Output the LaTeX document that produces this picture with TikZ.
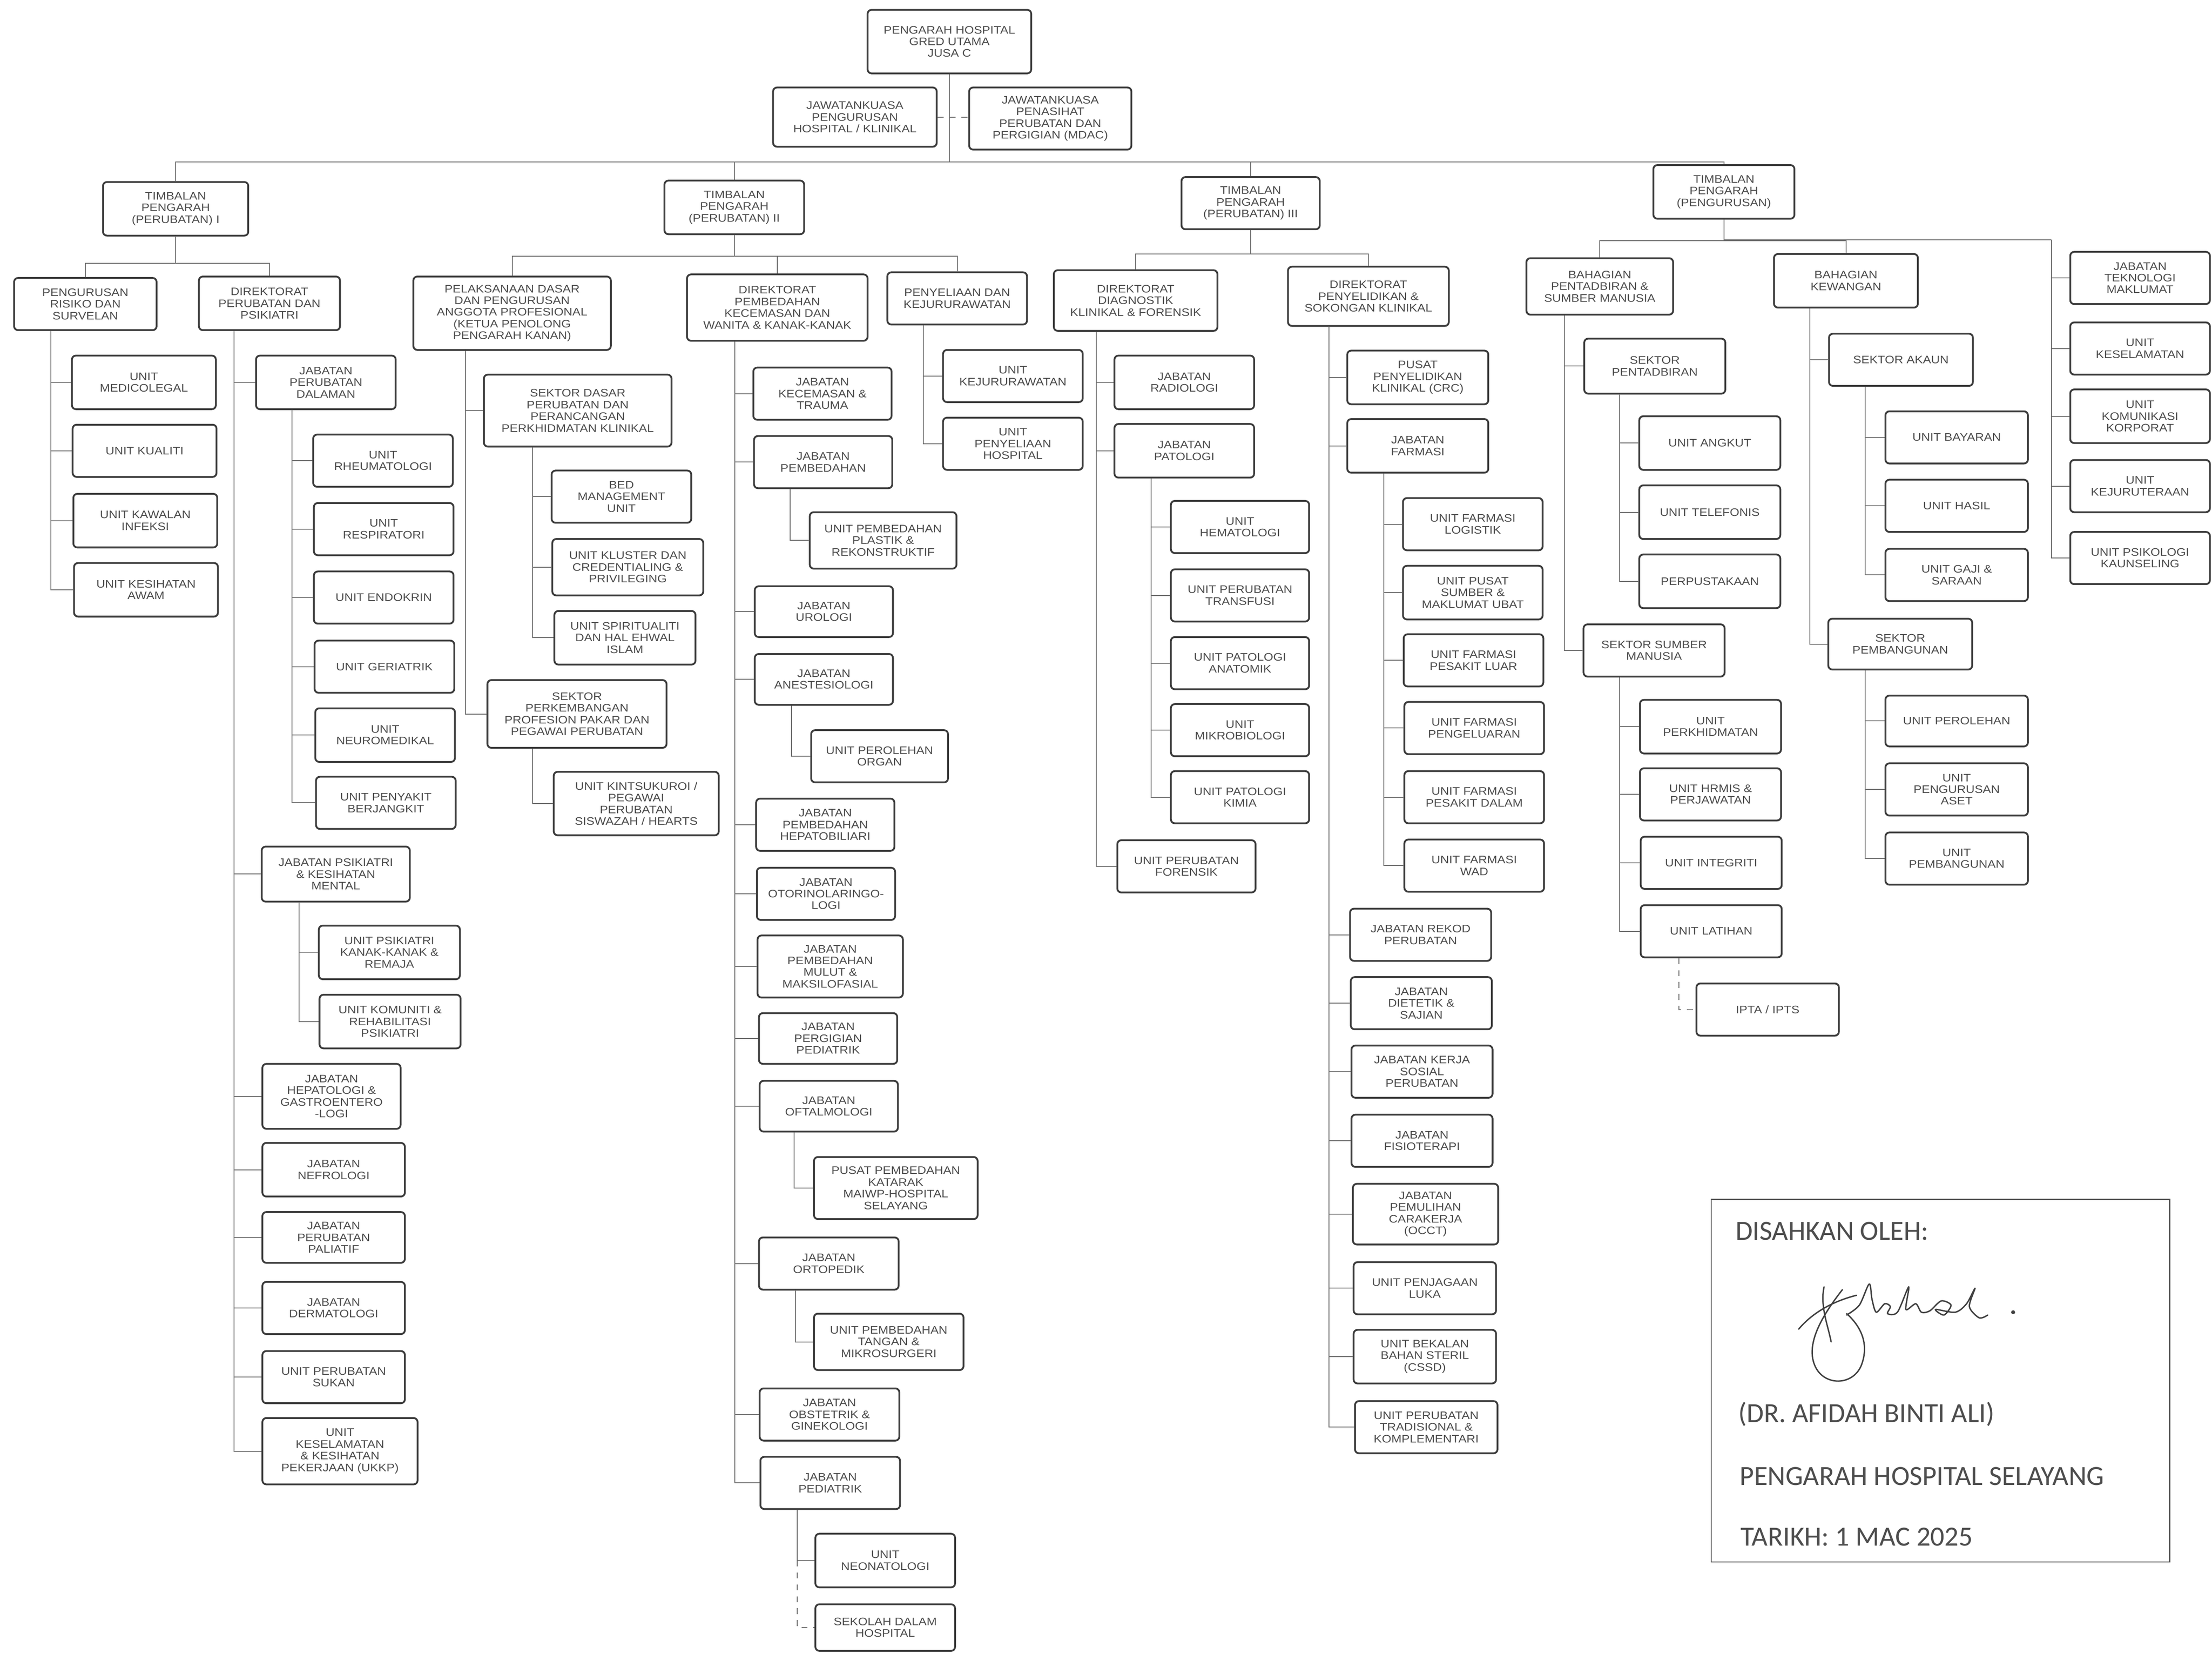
\documentclass[tikz,border=0pt]{standalone}
\usepackage{fontspec}
\usepackage{tikz}
\newfontfamily\boxfam[FakeStretch=1.12]{Liberation Sans}
\newfontfamily\sigfam{Carlito}
\definecolor{boxline}{HTML}{3C3C3C}
\definecolor{linkgray}{HTML}{6E6E6E}
\definecolor{txtgray}{HTML}{4D4D4D}
\tikzset{
  orgbox/.style={draw=boxline, line width=0.9pt, rounded corners=0.7mm, fill=white, align=center,
    text=txtgray, font=\boxfam\fontsize{5.5}{5.9}\selectfont, inner sep=0.5pt},
  wh/.style 2 args={minimum width=#1*0.25mm, minimum height=#2*0.25mm},
  link/.style={draw=linkgray, line width=0.45pt},
  sigtext/.style={anchor=base west, inner sep=0pt, text=txtgray, font=\sigfam\fontsize{14}{16}\selectfont},
  sigline/.style={draw=black!75, line width=0.7pt, line cap=round, line join=round},
}
\begin{document}
\begin{tikzpicture}[x=0.25mm,y=-0.25mm]
\path[fill=white] (0,0) rectangle (1568,1172);
\useasboundingbox (0,0) rectangle (1568,1172);

%Pengarah dan jawatankuasa
\node[orgbox, wh={116}{45}] (ph) at (673,29.5) {PENGARAH HOSPITAL\\GRED UTAMA\\JUSA C};
\node[orgbox, wh={116}{42}] (jkph) at (606,83) {JAWATANKUASA\\PENGURUSAN\\HOSPITAL / KLINIKAL};
\node[orgbox, wh={115}{44}] (mdac) at (744.5,84) {JAWATANKUASA\\PENASIHAT\\PERUBATAN DAN\\PERGIGIAN (MDAC)};

%Timbalan pengarah
\node[orgbox, wh={103}{38}] (tp1) at (124.5,148) {TIMBALAN\\PENGARAH\\(PERUBATAN) I};
\node[orgbox, wh={99}{38}] (tp2) at (520.5,147) {TIMBALAN\\PENGARAH\\(PERUBATAN) II};
\node[orgbox, wh={98}{37}] (tp3) at (886.5,144) {TIMBALAN\\PENGARAH\\(PERUBATAN) III};
\node[orgbox, wh={100}{38}] (tpp) at (1222,136) {TIMBALAN\\PENGARAH\\(PENGURUSAN)};

%Perubatan I
\node[orgbox, wh={101}{37}] (prs) at (60.5,215.5) {PENGURUSAN\\RISIKO DAN\\SURVELAN};
\node[orgbox, wh={100}{38}] (dpp) at (191,215) {DIREKTORAT\\PERUBATAN DAN\\PSIKIATRI};
\node[orgbox, wh={102}{38}] (umed) at (102,271) {UNIT\\MEDICOLEGAL};
\node[orgbox, wh={102}{37}] (ukua) at (102.5,319.5) {UNIT KUALITI};
\node[orgbox, wh={102}{38}] (ukaw) at (103,369) {UNIT KAWALAN\\INFEKSI};
\node[orgbox, wh={102}{38}] (ukes) at (103.5,418) {UNIT KESIHATAN\\AWAM};
\node[orgbox, wh={99}{38}] (jpd) at (231,271) {JABATAN\\PERUBATAN\\DALAMAN};
\node[orgbox, wh={99}{37}] (urhe) at (271.5,326.5) {UNIT\\RHEUMATOLOGI};
\node[orgbox, wh={99}{37}] (ures) at (272,375) {UNIT\\RESPIRATORI};
\node[orgbox, wh={99}{37}] (uend) at (272,423.5) {UNIT ENDOKRIN};
\node[orgbox, wh={99}{37}] (uger) at (272.5,472.5) {UNIT GERIATRIK};
\node[orgbox, wh={99}{38}] (uneu) at (273,521) {UNIT\\NEUROMEDIKAL};
\node[orgbox, wh={99}{37}] (upb) at (273.5,569) {UNIT PENYAKIT\\BERJANGKIT};
\node[orgbox, wh={105}{39}] (jpkm) at (238,619.5) {JABATAN PSIKIATRI\\\& KESIHATAN\\MENTAL};
\node[orgbox, wh={100}{38}] (upkr) at (276,675) {UNIT PSIKIATRI\\KANAK-KANAK \&\\REMAJA};
\node[orgbox, wh={100}{38}] (ukrp) at (276.5,724) {UNIT KOMUNITI \&\\REHABILITASI\\PSIKIATRI};
\node[orgbox, wh={98}{46}] (jhg) at (235,777) {JABATAN\\HEPATOLOGI \&\\GASTROENTERO\\-LOGI};
\node[orgbox, wh={101}{38}] (jnef) at (236.5,829) {JABATAN\\NEFROLOGI};
\node[orgbox, wh={101}{36}] (jpal) at (236.5,877) {JABATAN\\PERUBATAN\\PALIATIF};
\node[orgbox, wh={101}{37}] (jder) at (236.5,927) {JABATAN\\DERMATOLOGI};
\node[orgbox, wh={101}{37}] (ups) at (236.5,976) {UNIT PERUBATAN\\SUKAN};
\node[orgbox, wh={110}{47}] (ukkp) at (241,1028.5) {UNIT\\KESELAMATAN\\\& KESIHATAN\\PEKERJAAN (UKKP)};

%Perubatan II
\node[orgbox, wh={140}{52}] (pdpap) at (363,222) {PELAKSANAAN DASAR\\DAN PENGURUSAN\\ANGGOTA PROFESIONAL\\(KETUA PENOLONG\\PENGARAH KANAN)};
\node[orgbox, wh={128}{47}] (dpk) at (551,218) {DIREKTORAT\\PEMBEDAHAN\\KECEMASAN DAN\\WANITA \& KANAK-KANAK};
\node[orgbox, wh={99}{37}] (pkj) at (678.5,211.5) {PENYELIAAN DAN\\KEJURURAWATAN};
\node[orgbox, wh={133}{51}] (sdp) at (409.5,291) {SEKTOR DASAR\\PERUBATAN DAN\\PERANCANGAN\\PERKHIDMATAN KLINIKAL};
\node[orgbox, wh={99}{37}] (bmu) at (440.5,352) {BED\\MANAGEMENT\\UNIT};
\node[orgbox, wh={107}{40}] (ukcp) at (445,402) {UNIT KLUSTER DAN\\CREDENTIALING \&\\PRIVILEGING};
\node[orgbox, wh={100}{38}] (usei) at (443,452) {UNIT SPIRITUALITI\\DAN HAL EHWAL\\ISLAM};
\node[orgbox, wh={127}{48}] (spp) at (409,506) {SEKTOR\\PERKEMBANGAN\\PROFESION PAKAR DAN\\PEGAWAI PERUBATAN};
\node[orgbox, wh={117}{45}] (ukin) at (451,569.5) {UNIT KINTSUKUROI /\\PEGAWAI\\PERUBATAN\\SISWAZAH / HEARTS};
\node[orgbox, wh={98}{37}] (jkt) at (583,279) {JABATAN\\KECEMASAN \&\\TRAUMA};
\node[orgbox, wh={98}{37}] (jpem) at (583.5,327.5) {JABATAN\\PEMBEDAHAN};
\node[orgbox, wh={104}{40}] (upr) at (626,383) {UNIT PEMBEDAHAN\\PLASTIK \&\\REKONSTRUKTIF};
\node[orgbox, wh={98}{36}] (juro) at (584,433.5) {JABATAN\\UROLOGI};
\node[orgbox, wh={98}{36}] (jane) at (584,481.5) {JABATAN\\ANESTESIOLOGI};
\node[orgbox, wh={97}{37}] (upo) at (623.5,536) {UNIT PEROLEHAN\\ORGAN};
\node[orgbox, wh={98}{37}] (jphb) at (585,584.5) {JABATAN\\PEMBEDAHAN\\HEPATOBILIARI};
\node[orgbox, wh={98}{37}] (jorl) at (585.5,633.5) {JABATAN\\OTORINOLARINGO-\\LOGI};
\node[orgbox, wh={103}{44}] (jmm) at (588.5,685) {JABATAN\\PEMBEDAHAN\\MULUT \&\\MAKSILOFASIAL};
\node[orgbox, wh={98}{36}] (jpp) at (587,736) {JABATAN\\PERGIGIAN\\PEDIATRIK};
\node[orgbox, wh={98}{36}] (joft) at (587.5,784) {JABATAN\\OFTALMOLOGI};
\node[orgbox, wh={116}{44}] (upk) at (635,842) {PUSAT PEMBEDAHAN\\KATARAK\\MAIWP-HOSPITAL\\SELAYANG};
\node[orgbox, wh={99}{37}] (jort) at (587.5,895.5) {JABATAN\\ORTOPEDIK};
\node[orgbox, wh={106}{40}] (uptm) at (630,951) {UNIT PEMBEDAHAN\\TANGAN \&\\MIKROSURGERI};
\node[orgbox, wh={99}{37}] (jog) at (588,1002.5) {JABATAN\\OBSTETRIK \&\\GINEKOLOGI};
\node[orgbox, wh={99}{37}] (jped) at (588.5,1051) {JABATAN\\PEDIATRIK};
\node[orgbox, wh={99}{38}] (uneo) at (627.5,1106) {UNIT\\NEONATOLOGI};
\node[orgbox, wh={99}{33}] (sdh) at (627.5,1153.5) {SEKOLAH DALAM\\HOSPITAL};
\node[orgbox, wh={99}{37}] (ukej) at (718,266.5) {UNIT\\KEJURURAWATAN};
\node[orgbox, wh={99}{37}] (uph) at (718,314.5) {UNIT\\PENYELIAAN\\HOSPITAL};

%Perubatan III
\node[orgbox, wh={116}{43}] (ddkf) at (805,213) {DIREKTORAT\\DIAGNOSTIK\\KLINIKAL \& FORENSIK};
\node[orgbox, wh={114}{42}] (dpsk) at (970,210) {DIREKTORAT\\PENYELIDIKAN \&\\SOKONGAN KLINIKAL};
\node[orgbox, wh={99}{38}] (jrad) at (839.5,271) {JABATAN\\RADIOLOGI};
\node[orgbox, wh={99}{38}] (jpat) at (839.5,319.5) {JABATAN\\PATOLOGI};
\node[orgbox, wh={98}{37}] (uhem) at (879,373.5) {UNIT\\HEMATOLOGI};
\node[orgbox, wh={98}{37}] (uptr) at (879,422) {UNIT PERUBATAN\\TRANSFUSI};
\node[orgbox, wh={98}{37}] (upan) at (879,470) {UNIT PATOLOGI\\ANATOMIK};
\node[orgbox, wh={98}{37}] (umik) at (879,517.5) {UNIT\\MIKROBIOLOGI};
\node[orgbox, wh={98}{37}] (upki) at (879,565) {UNIT PATOLOGI\\KIMIA};
\node[orgbox, wh={98}{37}] (upf) at (841,614) {UNIT PERUBATAN\\FORENSIK};
\node[orgbox, wh={100}{38}] (crc) at (1005,267.5) {PUSAT\\PENYELIDIKAN\\KLINIKAL (CRC)};
\node[orgbox, wh={100}{38}] (jfar) at (1005,316) {JABATAN\\FARMASI};
\node[orgbox, wh={99}{37}] (uflo) at (1044,371.5) {UNIT FARMASI\\LOGISTIK};
\node[orgbox, wh={99}{38}] (upsm) at (1044,420) {UNIT PUSAT\\SUMBER \&\\MAKLUMAT UBAT};
\node[orgbox, wh={99}{37}] (ufpl) at (1044.5,468) {UNIT FARMASI\\PESAKIT LUAR};
\node[orgbox, wh={99}{37}] (ufpg) at (1045,516) {UNIT FARMASI\\PENGELUARAN};
\node[orgbox, wh={99}{37}] (ufpd) at (1045,565) {UNIT FARMASI\\PESAKIT DALAM};
\node[orgbox, wh={99}{37}] (ufwd) at (1045,613.5) {UNIT FARMASI\\WAD};
\node[orgbox, wh={100}{37}] (jrek) at (1007,662.5) {JABATAN REKOD\\PERUBATAN};
\node[orgbox, wh={100}{37}] (jdie) at (1007.5,711) {JABATAN\\DIETETIK \&\\SAJIAN};
\node[orgbox, wh={100}{37}] (jkso) at (1008,759.5) {JABATAN KERJA\\SOSIAL\\PERUBATAN};
\node[orgbox, wh={100}{37}] (jfis) at (1008,808.5) {JABATAN\\FISIOTERAPI};
\node[orgbox, wh={103}{43}] (jocc) at (1010.5,860.5) {JABATAN\\PEMULIHAN\\CARAKERJA\\(OCCT)};
\node[orgbox, wh={101}{37}] (upl) at (1010,913) {UNIT PENJAGAAN\\LUKA};
\node[orgbox, wh={101}{38}] (ucssd) at (1010,961.5) {UNIT BEKALAN\\BAHAN STERIL\\(CSSD)};
\node[orgbox, wh={101}{37}] (uptk) at (1011,1011.5) {UNIT PERUBATAN\\TRADISIONAL \&\\KOMPLEMENTARI};

%Pengurusan
\node[orgbox, wh={104}{40}] (bpsm) at (1134,203) {BAHAGIAN\\PENTADBIRAN \&\\SUMBER MANUSIA};
\node[orgbox, wh={102}{38}] (bk) at (1308.5,199) {BAHAGIAN\\KEWANGAN};
\node[orgbox, wh={100}{39}] (sp) at (1173,259.5) {SEKTOR\\PENTADBIRAN};
\node[orgbox, wh={100}{38}] (uang) at (1212,314) {UNIT ANGKUT};
\node[orgbox, wh={100}{38}] (utel) at (1212,363) {UNIT TELEFONIS};
\node[orgbox, wh={100}{38}] (ppk) at (1212,412) {PERPUSTAKAAN};
\node[orgbox, wh={100}{37}] (ssm) at (1172.5,461) {SEKTOR SUMBER\\MANUSIA};
\node[orgbox, wh={100}{38}] (uprk) at (1212.5,515) {UNIT\\PERKHIDMATAN};
\node[orgbox, wh={100}{37}] (uhrm) at (1212.5,563) {UNIT HRMIS \&\\PERJAWATAN};
\node[orgbox, wh={100}{37}] (uint) at (1213,611.5) {UNIT INTEGRITI};
\node[orgbox, wh={100}{37}] (ulat) at (1213,660) {UNIT LATIHAN};
\node[orgbox, wh={101}{37}] (ipta) at (1253,715.5) {IPTA / IPTS};
\node[orgbox, wh={102}{37}] (sak) at (1347.5,255) {SEKTOR AKAUN};
\node[orgbox, wh={101}{37}] (ubay) at (1387,310) {UNIT BAYARAN};
\node[orgbox, wh={101}{37}] (uhas) at (1387,358.5) {UNIT HASIL};
\node[orgbox, wh={101}{37}] (ugaj) at (1387,407.5) {UNIT GAJI \&\\SARAAN};
\node[orgbox, wh={102}{36}] (spb) at (1347,456.5) {SEKTOR\\PEMBANGUNAN};
\node[orgbox, wh={101}{36}] (upro) at (1387,511) {UNIT PEROLEHAN};
\node[orgbox, wh={101}{37}] (upas) at (1387,559.5) {UNIT\\PENGURUSAN\\ASET};
\node[orgbox, wh={101}{37}] (upbg) at (1387,608.5) {UNIT\\PEMBANGUNAN};
\node[orgbox, wh={99}{37}] (jtm) at (1517,197) {JABATAN\\TEKNOLOGI\\MAKLUMAT};
\node[orgbox, wh={99}{37}] (ukel) at (1517,247) {UNIT\\KESELAMATAN};
\node[orgbox, wh={99}{38}] (ukk) at (1517,295) {UNIT\\KOMUNIKASI\\KORPORAT};
\node[orgbox, wh={99}{37}] (ukju) at (1517,344.5) {UNIT\\KEJURUTERAAN};
\node[orgbox, wh={99}{37}] (upsk) at (1517,395.5) {UNIT PSIKOLOGI\\KAUNSELING};

%vertical rails
\coordinate (vprs) at (36,0);   \coordinate (vdpp) at (166,0);  \coordinate (vjpd) at (207,0);
\coordinate (vjpkm) at (212,0); \coordinate (vpdp) at (330,0);  \coordinate (vsdp) at (377.5,0);
\coordinate (vdpk) at (521,0);  \coordinate (vjpem) at (560,0); \coordinate (vjane) at (561,0);
\coordinate (vjoft) at (563,0); \coordinate (vjort) at (564,0); \coordinate (vjped) at (565,0);
\coordinate (vpkj) at (654.5,0); \coordinate (vddk) at (777,0); \coordinate (vjpat) at (816,0);
\coordinate (vdps) at (942,0);  \coordinate (vjfar) at (981,0); \coordinate (vbps) at (1109,0);
\coordinate (vsp) at (1148,0);  \coordinate (vbk) at (1283,0);  \coordinate (vsak) at (1322,0);
\coordinate (vlat) at (1190,0); \coordinate (bp) at (1454,170);

%connectors
\draw[link, dashed] (jkph.east) -- (jkph.east -| mdac.west);
\foreach \c in {tp1,tp2,tp3,tpp} \draw[link] (ph.south) -- ++(0,62) -| (\c.north);
\foreach \c in {prs,dpp} \draw[link] (tp1.south) -- ++(0,19) -| (\c.north);
\foreach \c in {pdpap,dpk,pkj} \draw[link] (tp2.south) -- ++(0,15) -| (\c.north);
\foreach \c in {ddkf,dpsk} \draw[link] (tp3.south) -- ++(0,17) -| (\c.north);
\foreach \c in {bpsm,bk} \draw[link] (tpp.south) -- ++(0,15) -| (\c.north);
\draw[link] (tpp.south) |- (bp);
\foreach \c in {jtm,ukel,ukk,ukju,upsk} \draw[link] (bp) |- (\c.west);

\foreach \c in {umed,ukua,ukaw,ukes} \draw[link] (prs.south -| vprs) |- (\c.west);
\foreach \c in {jpd,jpkm,jhg,jnef,jpal,jder,ups,ukkp} \draw[link] (dpp.south -| vdpp) |- (\c.west);
\foreach \c in {urhe,ures,uend,uger,uneu,upb} \draw[link] (jpd.south -| vjpd) |- (\c.west);
\foreach \c in {upkr,ukrp} \draw[link] (jpkm.south -| vjpkm) |- (\c.west);

\foreach \c in {sdp,spp} \draw[link] (pdpap.south -| vpdp) |- (\c.west);
\foreach \c in {bmu,ukcp,usei} \draw[link] (sdp.south -| vsdp) |- (\c.west);
\draw[link] (spp.south -| vsdp) |- (ukin.west);
\foreach \c in {jkt,jpem,juro,jane,jphb,jorl,jmm,jpp,joft,jort,jog,jped} \draw[link] (dpk.south -| vdpk) |- (\c.west);
\draw[link] (jpem.south -| vjpem) |- (upr.west);
\draw[link] (jane.south -| vjane) |- (upo.west);
\draw[link] (joft.south -| vjoft) |- (upk.west);
\draw[link] (jort.south -| vjort) |- (uptm.west);
\draw[link] (jped.south -| vjped) |- (uneo.west);
\draw[link, dashed] (uneo.west -| vjped) |- (sdh.west);
\foreach \c in {ukej,uph} \draw[link] (pkj.south -| vpkj) |- (\c.west);

\foreach \c in {jrad,jpat,upf} \draw[link] (ddkf.south -| vddk) |- (\c.west);
\foreach \c in {uhem,uptr,upan,umik,upki} \draw[link] (jpat.south -| vjpat) |- (\c.west);
\foreach \c in {crc,jfar,jrek,jdie,jkso,jfis,jocc,upl,ucssd,uptk} \draw[link] (dpsk.south -| vdps) |- (\c.west);
\foreach \c in {uflo,upsm,ufpl,ufpg,ufpd,ufwd} \draw[link] (jfar.south -| vjfar) |- (\c.west);

\foreach \c in {sp,ssm} \draw[link] (bpsm.south -| vbps) |- (\c.west);
\foreach \c in {uang,utel,ppk} \draw[link] (sp.south -| vsp) |- (\c.west);
\foreach \c in {uprk,uhrm,uint,ulat} \draw[link] (ssm.south -| vsp) |- (\c.west);
\draw[link, dashed] (ulat.south -| vlat) |- (ipta.west);
\foreach \c in {sak,spb} \draw[link] (bk.south -| vbk) |- (\c.west);
\foreach \c in {ubay,uhas,ugaj} \draw[link] (sak.south -| vsak) |- (\c.west);
\foreach \c in {upro,upas,upbg} \draw[link] (spb.south -| vsak) |- (\c.west);

%Pengesahan
\node[draw=black!70, line width=0.6pt, minimum width=325*0.25mm, minimum height=257*0.25mm] (sah) at (1375.5,978.5) {};
\node[sigtext] (sah1) at (1230,879) {DISAHKAN OLEH:};
\node[sigtext] (sah2) at (1232,1008) {(DR. AFIDAH BINTI ALI)};
\node[sigtext] (sah3) at (1233,1052.5) {PENGARAH HOSPITAL SELAYANG};
\node[sigtext] (sah4) at (1233.5,1095.5) {TARIKH: 1 MAC 2025};
%Tandatangan
\draw[sigline] (1306,914) .. controls (1292,932) and (1279,953) .. (1287,969) .. controls (1294,983) and (1315,982) .. (1320,966) .. controls (1325,951) and (1318,939) .. (1309,931);
\draw[sigline] (1275,942) .. controls (1285,930) and (1300,922) .. (1316,918);
\draw[sigline] (1293,912) .. controls (1290,926) and (1296,940) .. (1298,951);
\draw[sigline] plot[smooth] coordinates {(1309,932) (1318,925) (1325,910) (1327,921) (1330,930) (1336,924) (1340,926) (1338,931) (1345,930) (1353,912) (1351,928) (1358,924) (1362,930) (1368,929) (1376,922) (1383,925) (1378,932) (1372,928) (1386,930) (1394,924) (1400,913) (1396,926) (1403,934) (1409,932)};
\fill[black!75] (1427,930) circle (0.35mm);
\end{tikzpicture}
\end{document}
